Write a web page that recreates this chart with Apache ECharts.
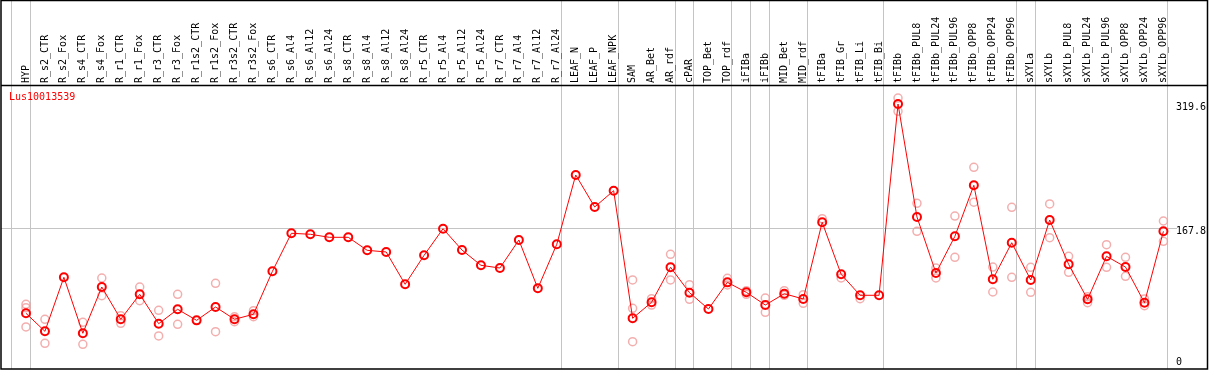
<!DOCTYPE html>
<html><head><meta charset="utf-8">
<script src="https://cdn.jsdelivr.net/npm/echarts@6/dist/echarts.min.js"></script>
<style>html,body{margin:0;padding:0;background:#fff}#c{width:1209px;height:370px}</style>
</head><body><div id="c"></div>
<script>
const geneName = 'Lus10013539';
const categories = ['HYP','R_s2_CTR','R_s2_Fox','R_s4_CTR','R_s4_Fox','R_r1_CTR','R_r1_Fox','R_r3_CTR','R_r3_Fox','R_r1s2_CTR','R_r1s2_Fox','R_r3s2_CTR','R_r3s2_Fox','R_s6_CTR','R_s6_Al4','R_s6_Al12','R_s6_Al24','R_s8_CTR','R_s8_Al4','R_s8_Al12','R_s8_Al24','R_r5_CTR','R_r5_Al4','R_r5_Al12','R_r5_Al24','R_r7_CTR','R_r7_Al4','R_r7_Al12','R_r7_Al24','LEAF_N','LEAF_P','LEAF_NPK','SAM','AR_Bet','AR_rdf','cPAR','TOP_Bet','TOP_rdf','iFIBa','iFIBb','MID_Bet','MID_rdf','tFIBa','tFIB_Gr','tFIB_Li','tFIB_Bi','tFIBb','tFIBb_PUL8','tFIBb_PUL24','tFIBb_PUL96','tFIBb_OPP8','tFIBb_OPP24','tFIBb_OPP96','sXYLa','sXYLb','sXYLb_PUL8','sXYLb_PUL24','sXYLb_PUL96','sXYLb_OPP8','sXYLb_OPP24','sXYLb_OPP96'];
const meanValues = [64.0,42.0,108.0,39.6,96.1,56.7,87.2,51.3,68.9,55.4,
  71.7,56.7,62.8,115.3,161.7,160.5,156.8,156.8,140.9,138.9,
  99.4,134.8,167.3,141.3,122.6,119.3,153.5,94.5,148.3,232.9,
  193.8,213.7,57.9,77.4,120.2,89.2,69.2,101.8,89.6,74.1,
  87.9,81.5,175.1,111.6,86.0,86.0,319.6,181.6,113.2,158.0,
  220.3,105.5,150.2,104.7,177.9,123.8,81.1,133.6,120.5,76.9,164.1];
const rep1 = [75.0,56.7,null,53.0,107.1,61.1,96.1,67.6,87.2,null,
  100.6,59.8,67.2,null,null,null,null,null,null,null,
  null,null,null,null,null,null,null,null,null,null,
  null,null,104.7,81.8,136.0,98.9,null,106.7,91.6,82.7,
  91.6,86.7,179.5,107.1,81.8,null,326.9,198.3,119.3,182.8,
  242.3,120.5,193.4,120.2,197.5,133.6,84.3,147.8,132.4,81.5,176.7];
const rep2 = [47.3,27.4,null,26.1,85.5,51.8,79.4,36.3,50.6,null,
  41.5,53.7,59.8,null,null,null,null,null,null,null,
  null,null,null,null,null,null,null,null,null,null,
  null,null,29.3,74.1,104.7,81.1,null,98.6,87.2,65.2,
  86.0,76.2,null,null,null,null,310.7,164.1,107.1,132.4,
  199.6,90.0,108.0,89.6,156.3,114.1,76.9,120.2,109.2,73.3,151.9];
const rep3 = [70.8,null,null,null,null,null,null,null,null,null,
  null,null,null,null,null,null,null,null,null,null,
  null,null,null,null,null,null,null,null,null,null,
  null,null,70.1,null,null,null,null,null,null,null,
  null,null,null,null,null,null,null,null,null,null,
  null,null,null,null,null,null,null,null,null,null,null];
const yTickValues = [0, 167.8, 319.6];
const gridValue = 167.8;
const groupEnds = ['HYP','R_r7_Al24','LEAF_NPK','AR_rdf','cPAR','TOP_rdf','iFIBa','iFIBb','MID_rdf','tFIB_Bi','tFIBb_OPP96','sXYLa','sXYLb_OPP96'];

const FONT = 'DejaVu Sans Mono';
const chart = echarts.init(document.getElementById('c'), null, {renderer: 'canvas'});
const repSeries = [rep1, rep2, rep3].map(r => ({
  type: 'scatter', data: r, symbol: 'circle', symbolSize: 8, z: 2, silent: true,
  itemStyle: {color: 'rgba(0,0,0,0)', borderColor: '#f09a9a', borderWidth: 1.5}
}));
chart.setOption({
  animation: false,
  title: {text: geneName, left: 9, top: 92, padding: 0,
    textStyle: {color: '#ff0000', fontSize: 10, fontWeight: 'normal', fontFamily: FONT}},
  grid: {left: 16.5, right: 33.5, top: 85, bottom: 2, containLabel: false},
  xAxis: {type: 'category', data: categories, position: 'top', boundaryGap: true,
    axisLine: {show: false}, axisTick: {show: false}, splitLine: {show: false},
    axisLabel: {rotate: 90, interval: 0, margin: 2, color: '#000', fontSize: 10, fontFamily: FONT}},
  yAxis: {type: 'value', position: 'right', min: -2.8, max: 342.8,
    axisLine: {show: false}, axisTick: {show: false}, splitLine: {show: false},
    axisLabel: {customValues: yTickValues, margin: 3, color: '#000', fontSize: 10, fontFamily: FONT,
      formatter: v => (v === 0 ? '{u|' + v + '}' : '{d|' + v + '}'),
      rich: {
        d: {padding: [7, 0, 0, 0], fontSize: 10, fontFamily: FONT, color: '#000'},
        u: {padding: [0, 0, 7, 0], fontSize: 10, fontFamily: FONT, color: '#000'}
      }}},
  series: repSeries.concat([{
    type: 'line', data: meanValues, symbol: 'circle', symbolSize: 8, showAllSymbol: true, z: 3,
    lineStyle: {color: '#ff0000', width: 1},
    itemStyle: {color: 'rgba(0,0,0,0)', borderColor: '#ff0000', borderWidth: 2}
  }])
});

const px = name => chart.convertToPixel({xAxisIndex: 0}, name);
const bw = px(categories[1]) - px(categories[0]);
const gy = Math.round(chart.convertToPixel({yAxisIndex: 0}, gridValue)) + 0.5;
const graphics = [];
const sepX = [px(categories[0]) - bw + 4].concat(groupEnds.map(n => px(n) + 4));
sepX.forEach(x => {
  const xx = Math.round(x) + 0.5;
  graphics.push({type: 'line', z: -1, silent: true,
    shape: {x1: xx, y1: 0, x2: xx, y2: 369}, style: {stroke: '#c4c4c4', lineWidth: 1}});
});
graphics.push({type: 'line', z: -1, silent: true,
  shape: {x1: 1, y1: gy, x2: 1177, y2: gy}, style: {stroke: '#c4c4c4', lineWidth: 1}});
graphics.push({type: 'line', z: 10, silent: true,
  shape: {x1: 1, y1: 85.5, x2: 1207, y2: 85.5}, style: {stroke: '#000', lineWidth: 1.5}});
graphics.push({type: 'rect', z: 10, silent: true,
  shape: {x: 1, y: 0.5, width: 1206.5, height: 368.5}, style: {fill: 'none', stroke: '#000', lineWidth: 1.5}});
chart.setOption({graphic: graphics});
</script></body></html>
